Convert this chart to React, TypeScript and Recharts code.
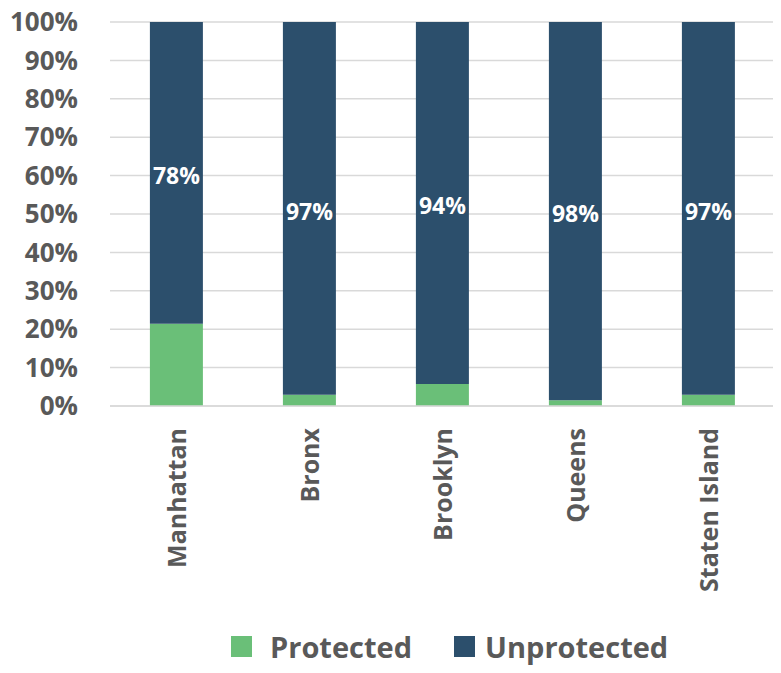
import { BarChart, Bar, XAxis, YAxis, CartesianGrid, Legend, LabelList } from 'recharts'

const boroughs = ['Manhattan', 'Bronx', 'Brooklyn', 'Queens', 'Staten Island']
const protectedPct = [21.4, 2.9, 5.7, 1.5, 2.9]
const unprotectedPct = [78.6, 97.1, 94.3, 98.5, 97.1]
const unprotectedLabels = ['78%', '97%', '94%', '98%', '97%']
const yTicks = [0, 10, 20, 30, 40, 50, 60, 70, 80, 90, 100]

const GREEN = '#6abf78'
const NAVY = '#2c4f6c'
const GREY = '#595959'
const FONT = '"Open Sans", sans-serif'

const data = boroughs.map((name, i) => ({
  name,
  protected: protectedPct[i],
  unprotected: unprotectedPct[i],
  label: unprotectedLabels[i],
}))

const BoroughTick = ({ x, y, payload }: any) => (
  <text
    x={x}
    y={y}
    transform={`rotate(-90, ${x}, ${y})`}
    textAnchor="end"
    dy="0.36em"
    fill={GREY}
    fontSize={25}
    fontWeight={700}
    fontFamily={FONT}
  >
    {payload.value}
  </text>
)

const LegendBox = () => (
  <div
    style={{
      display: 'flex',
      alignItems: 'center',
      height: 40,
      paddingLeft: 231,
      fontFamily: FONT,
      fontWeight: 700,
      fontSize: 29,
      color: GREY,
    }}
  >
    <span style={{ width: 21, height: 21, background: GREEN, marginRight: 18 }} />
    <span style={{ marginRight: 42 }}>Protected</span>
    <span style={{ width: 21, height: 21, background: NAVY, marginRight: 10 }} />
    <span>Unprotected</span>
  </div>
)

export default function App() {
  return (
    <div style={{ margin: -8, width: 781, height: 673, background: '#fff' }}>
      <BarChart
        width={781}
        height={673}
        data={data}
        margin={{ top: 22, right: 6, left: 0, bottom: 0 }}
        barCategoryGap="30%"
      >
        <CartesianGrid vertical={false} stroke="#d9d9d9" strokeWidth={1.5} />
        <XAxis
          dataKey="name"
          height={227}
          tick={<BoroughTick />}
          tickLine={false}
          tickSize={0}
          tickMargin={22}
          axisLine={{ stroke: '#d9d9d9', strokeWidth: 1.5 }}
          interval={0}
        />
        <YAxis
          width={110}
          domain={[0, 100]}
          ticks={yTicks}
          tickFormatter={(v) => `${v}%`}
          tickLine={false}
          axisLine={false}
          tickSize={6}
          tickMargin={26}
          tick={{ fill: GREY, fontSize: 26, fontWeight: 700, fontFamily: FONT }}
        />
        <Legend
          verticalAlign="bottom"
          content={<LegendBox />}
          wrapperStyle={{ bottom: 0, top: 626, height: 40 }}
        />
        <Bar dataKey="protected" stackId="a" fill={GREEN} isAnimationActive={false} />
        <Bar dataKey="unprotected" stackId="a" fill={NAVY} isAnimationActive={false}>
          <LabelList
            dataKey="label"
            position="center"
            dy={3}
            fill="#ffffff"
            fontSize={23}
            fontWeight={700}
            fontFamily={FONT}
          />
        </Bar>
      </BarChart>
    </div>
  )
}
